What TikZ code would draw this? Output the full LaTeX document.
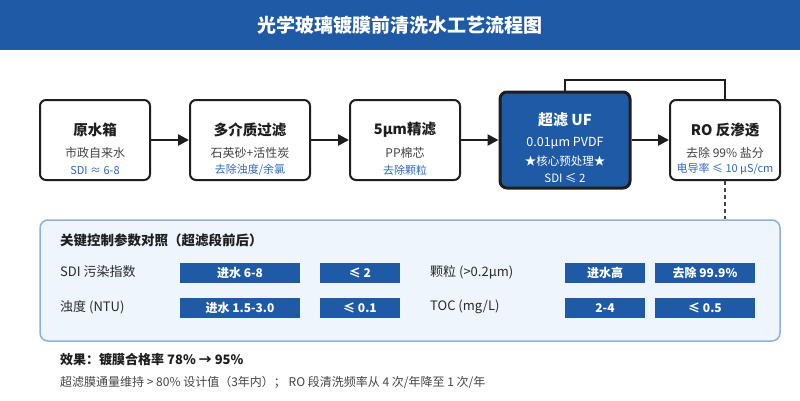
\documentclass[tikz,border=0pt]{standalone}
\usepackage{fontspec}
\setmainfont{Noto Sans CJK SC}
\usetikzlibrary{arrows.meta,positioning}
\definecolor{mainblue}{HTML}{1F5AA6}
\definecolor{txtblue}{HTML}{2F6AC0}
\definecolor{darkline}{HTML}{1E1E1E}
\definecolor{graytxt}{HTML}{444444}
\definecolor{paneltxt}{HTML}{2A2A2A}
\definecolor{panelfill}{HTML}{EEF5FD}
\definecolor{panelline}{HTML}{8EB0DC}
\newcommand{\fs}[1]{\fontsize{#1}{#1}\selectfont}
\tikzset{
  stepbox/.style={draw=darkline, line width=2pt, rounded corners=6pt, fill=white,
    minimum width=110pt, minimum height=80pt, inner sep=0pt},
  corebox/.style={draw=darkline, line width=3pt, rounded corners=7pt, fill=mainblue,
    minimum width=130pt, minimum height=96pt, inner sep=0pt},
  ttl/.style={font=\fs{14.5}\bfseries, text=darkline, inner sep=0pt},
  sub/.style={font=\fs{12}, text=graytxt, inner sep=0pt},
  blu/.style={font=\fs{11}, text=txtblue, inner sep=0pt},
  flow/.style={draw=darkline, line width=2.5pt, -{Triangle[length=11pt,width=11pt]}},
  bar/.style={fill=mainblue, text=white, font=\fs{12}\bfseries, minimum height=20pt, inner sep=0pt},
  rowlbl/.style={font=\fs{13}, text=paneltxt, anchor=west, inner sep=0pt},
}
\begin{document}
\begin{tikzpicture}[x=1pt,y=-1pt]
\useasboundingbox (0,0) rectangle (800,400);
\fill[white] (0,0) rectangle (800,400);
% title bar
\fill[mainblue] (0,0) rectangle (800,50);
\node[font=\fs{19}\bfseries, text=white] (title) at (400,25) {光学玻璃镀膜前清洗水工艺流程图};

% boxes
\node[stepbox] (b1) at (95,140) {};
\node[stepbox, minimum width=120pt] (b2) at (250,140) {};
\node[stepbox] (b3) at (405,140) {};
\node[corebox] (uf) at (565,140) {};
\node[stepbox] (ro) at (725,140) {};

% box texts
\node[ttl] (t1) at (95,130) {原水箱};
\node[sub] (s1) at (95,153) {市政自来水};
\node[blu] (u1) at (95,170) {SDI ≈ 6-8};

\node[ttl] (t2) at (250,130) {多介质过滤};
\node[sub] (s2) at (250,153) {石英砂+活性炭};
\node[blu] (u2) at (250,170) {去除浊度/余氯};

\node[ttl] (t3) at (405,130) {5μm精滤};
\node[sub] (s3) at (405,153) {PP棉芯};
\node[blu] (u3) at (405,170) {去除颗粒};

\node[ttl, text=white, font=\fs{15}\bfseries] (t4) at (565,120) {超滤 UF};
\node[sub, text=white, font=\fs{12.5}] (s4) at (565,143) {0.01μm PVDF};
\node[sub, text=white, font=\fs{11.5}] (s4b) at (565,161) {★核心预处理★};
\node[sub, text=white, font=\fs{11.5}] (s4c) at (565,178) {SDI ≤ 2};

\node[ttl] (t5) at (725,130) {RO 反渗透};
\node[sub] (s5) at (725,153) {去除 99\% 盐分};
\node[blu] (u5) at (725,169) {电导率 ≤ 10 μS/cm};

% connectors
\draw[flow] (b1.east) -- (b2.west);
\draw[flow] (b2.east) -- (b3.west);
\draw[flow] (b3.east) -- (uf.west);
\draw[flow] (uf.east) -- (ro.west);
\draw[draw=darkline, line width=2.5pt] (uf.north) -- (uf.north |- 0,80) -| (ro.north);

% panel
\node[draw=panelline, line width=1.5pt, fill=panelfill, rounded corners=8pt,
      minimum width=740pt, minimum height=121pt, inner sep=0pt] (panel) at (410,280.5) {};
\draw[draw=graytxt, line width=2.5pt, dash pattern=on 4pt off 3pt] (ro.south) -- (ro.south |- panel.north);

\node[font=\fs{13.5}\bfseries, text=darkline, anchor=west, inner sep=0pt] (ptitle) at (60,240) {关键控制参数对照（超滤段前后）};

\node[rowlbl] (l1) at (60,272) {SDI 污染指数};
\node[rowlbl] (l2) at (60,307) {浊度 (NTU)};
\node[rowlbl] (l3) at (430,272) {颗粒 (>0.2μm)};
\node[rowlbl] (l4) at (430,307) {TOC (mg/L)};

\node[bar, minimum width=120pt] (r1a) at (240,273) {进水 6-8};
\node[bar, minimum width=80pt] (r1b) at (360,273) {≤ 2};
\node[bar, minimum width=120pt] (r2a) at (240,308) {进水 1.5-3.0};
\node[bar, minimum width=80pt] (r2b) at (360,308) {≤ 0.1};
\node[bar, minimum width=80pt] (r1c) at (605,273) {进水高};
\node[bar, minimum width=100pt] (r1d) at (705,273) {去除 99.9\%};
\node[bar, minimum width=80pt] (r2c) at (605,308) {2-4};
\node[bar, minimum width=100pt] (r2d) at (705,308) {≤ 0.5};

% bottom
\node[font=\fs{13}\bfseries, text=darkline, anchor=west, inner sep=0pt] (eff) at (60,360) {效果：镀膜合格率 78\% → 95\%};
\node[font=\fs{12}, text=graytxt, anchor=west, inner sep=0pt] (eff2) at (60,382) {超滤膜通量维持 > 80\% 设计值（3年内）； RO 段清洗频率从 4 次/年降至 1 次/年};
\end{tikzpicture}
\end{document}
